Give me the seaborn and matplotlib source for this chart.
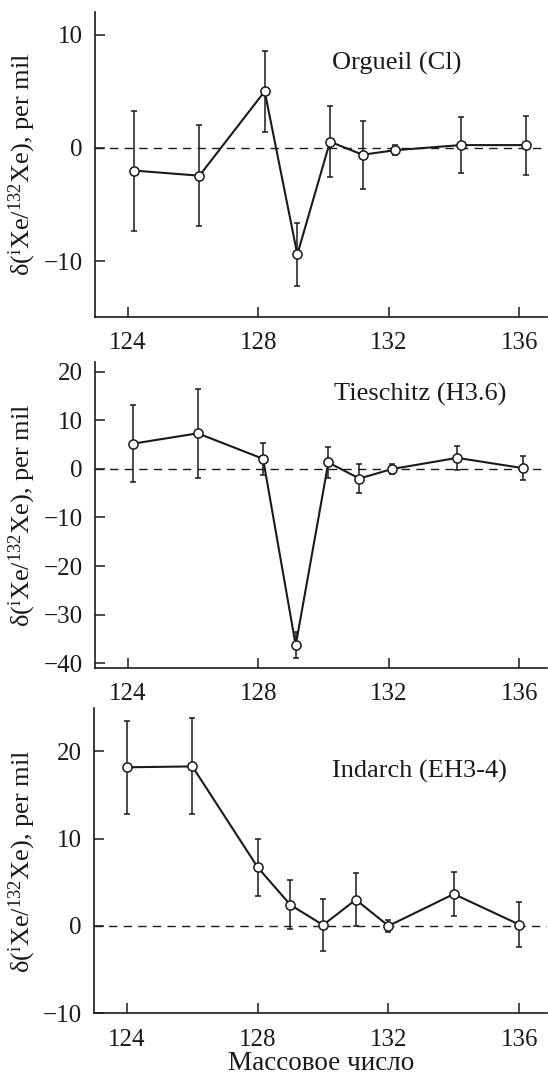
import numpy as np
import pandas as pd
import matplotlib
matplotlib.use("Agg")
import matplotlib.pyplot as plt
import seaborn as sns

# ---- data ----
mass_orgueil = [124.2, 126.2, 128.2, 129.2, 130.2, 131.2, 132.2, 134.2, 136.2]
delta_orgueil = [-2.0, -2.45, 5.0, -9.4, 0.55, -0.6, -0.2, 0.25, 0.25]
err_orgueil = [5.3, 4.45, 3.6, 2.8, 3.15, 3.0, 0.45, 2.45, 2.6]

mass_tieschitz = [124.15, 126.15, 128.15, 129.15, 130.15, 131.1, 132.1, 134.1, 136.1]
delta_tieschitz = [5.15, 7.3, 2.05, -36.3, 1.3, -2.0, -0.05, 2.25, 0.15]
err_tieschitz = [7.9, 9.2, 3.3, 2.7, 3.2, 3.05, 0.95, 2.5, 2.45]

mass_indarch = [124, 126, 128, 129, 130, 131, 132, 134, 136]
delta_indarch = [18.15, 18.25, 6.7, 2.4, 0.1, 3.0, 0.0, 3.65, 0.15]
err_indarch = [5.3, 5.5, 3.3, 2.8, 3.0, 3.0, 0.7, 2.5, 2.55]

names = ["Orgueil (Cl)", "Tieschitz (H3.6)", "Indarch (EH3-4)"]
xticks = [124, 128, 132, 136]
yticks_list = [[-10, 0, 10], [-40, -30, -20, -10, 0, 10, 20], [-10, 0, 10, 20]]
ylims = [(-14.9, 12.0), (-40.9, 21.9), (-10.0, 24.9)]
name_pos = [(130.27, 7.45), (130.33, 15.2), (130.27, 17.7)]
ylabel = r"δ($^{\mathrm{i}}$Xe/$^{132}$Xe), per mil"
xlabel = "Массовое число"

sns.set_theme(style="ticks")
plt.rcParams["font.family"] = ["Liberation Serif", "DejaVu Serif"]
plt.rcParams["mathtext.fontset"] = "custom"
plt.rcParams["mathtext.rm"] = "Liberation Serif"
plt.rcParams["mathtext.it"] = "Liberation Serif:italic"
plt.rcParams["axes.unicode_minus"] = True

ink = "#1a1a1a"
fs_tick = 18
fs_lab = 19

fig = plt.figure(figsize=(5.48, 10.75), dpi=100)
W, H = 548.0, 1075.0
boxes = [(95, 12, 547, 316.7), (95, 362.3, 547, 667.7), (94.3, 708.3, 547, 1013.3)]

datasets = [
    (mass_orgueil, delta_orgueil, err_orgueil),
    (mass_tieschitz, delta_tieschitz, err_tieschitz),
    (mass_indarch, delta_indarch, err_indarch),
]

for i, ((l, t, r, b), (xs, ys, es)) in enumerate(zip(boxes, datasets)):
    ax = fig.add_axes([l / W, 1 - b / H, (r - l) / W, (b - t) / H])
    df = pd.DataFrame({"mass": xs, "delta": ys, "err": es})
    ax.axhline(0, color=ink, lw=1.0, ls=(0, (6, 4.5)), zorder=1)
    ax.errorbar(df["mass"], df["delta"], yerr=df["err"], fmt="none",
                ecolor=ink, elinewidth=1.1, capsize=2.0, capthick=1.1, zorder=2)
    sns.lineplot(data=df, x="mass", y="delta", ax=ax, color=ink, lw=1.5,
                 marker="o", markersize=6.6, markerfacecolor="white",
                 markeredgecolor=ink, markeredgewidth=1.1, zorder=3)
    ax.set_xlim(123.0, 136.85)
    ax.set_ylim(*ylims[i])
    ax.set_xticks(xticks)
    ax.set_yticks(yticks_list[i])
    ax.tick_params(direction="in", length=7, width=1.1, colors=ink,
                   labelsize=fs_tick)
    ax.tick_params(axis="x", pad=11)
    ax.tick_params(axis="y", pad=9)
    for s in ["top", "right"]:
        ax.spines[s].set_visible(False)
    for s in ["left", "bottom"]:
        ax.spines[s].set_linewidth(1.2)
        ax.spines[s].set_color(ink)
    ax.set_ylabel(ylabel, fontsize=fs_lab, color=ink)
    ax.yaxis.set_label_coords(-0.125, 0.5)
    if i == 2:
        ax.set_xlabel(xlabel, fontsize=19.5, color=ink, labelpad=0)
    else:
        ax.set_xlabel("")
    ax.text(name_pos[i][0], name_pos[i][1], names[i], fontsize=fs_lab, color=ink,
            ha="left", va="center")

fig.savefig("out.png", dpi=100)
